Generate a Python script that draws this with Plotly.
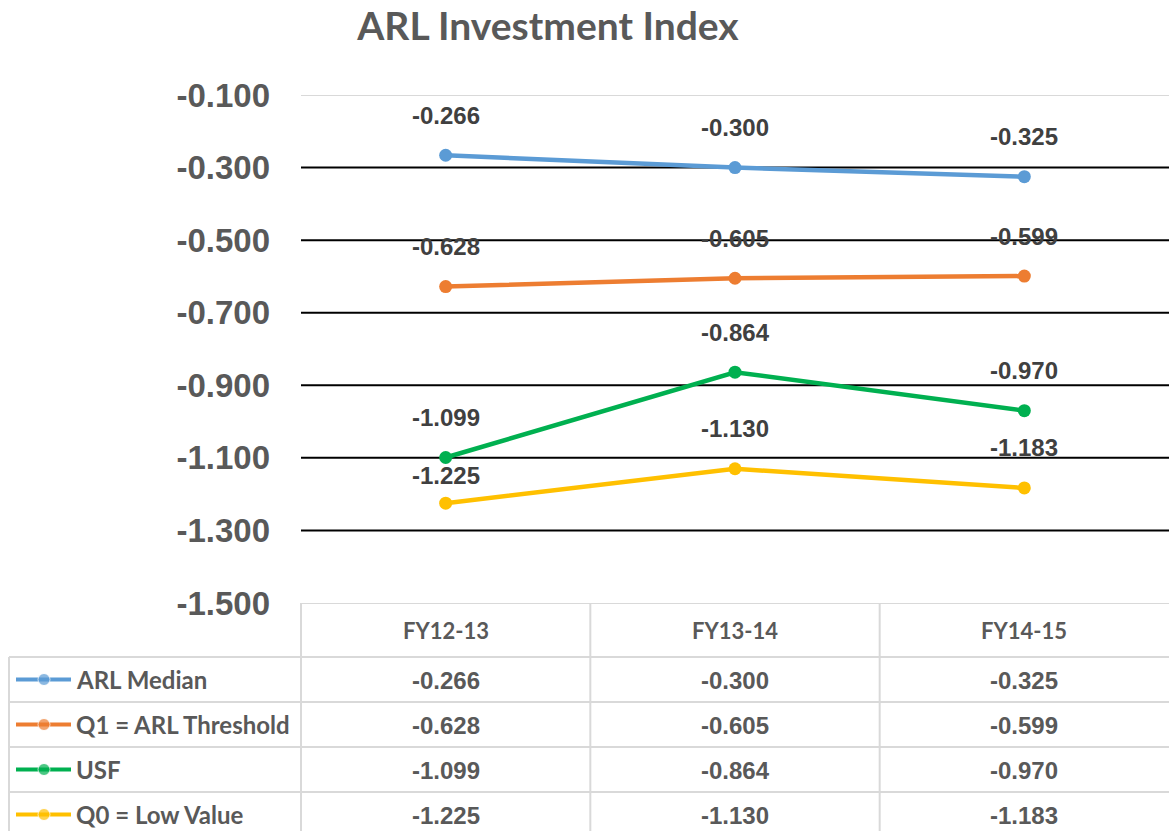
import plotly.graph_objects as go

# ---------------- data ----------------
categories = ["FY12-13", "FY13-14", "FY14-15"]
series_names = ["ARL Median", "Q1 = ARL Threshold", "USF", "Q0 = Low Value"]
arl_median = [-0.266, -0.300, -0.325]
q1_threshold = [-0.628, -0.605, -0.599]
usf = [-1.099, -0.864, -0.970]
q0_low = [-1.225, -1.130, -1.183]
tick_vals = [-0.1, -0.3, -0.5, -0.7, -0.9, -1.1, -1.3, -1.5]
title_text = "ARL Investment Index"

series_values = [arl_median, q1_threshold, usf, q0_low]
colors = ["#5B9BD5", "#ED7D31", "#00B050", "#FFC000"]

# ---------------- layout constants ----------------
W, H = 1169, 831
ML, MT = 8, 95
plot_w = W - ML
plot_h = H - MT
table_left_px = 293          # width of the label column
table_h = 228                # table height in px
header_h = 54
row_h = 45
unit = (plot_w - table_left_px) / len(categories)   # px per category
x0 = -0.5 - table_left_px / unit                    # table axis left edge
grid_light = "#D9D9D9"
text_gray = "#595959"
label_gray = "#404040"
label_shift = 40
label_shift_override = {(3, 0): 28}   # (series, category) -> px

fig = go.Figure()

# main series
xs = list(range(len(categories)))
for name, vals, col in zip(series_names, series_values, colors):
    fig.add_trace(go.Scatter(
        x=xs, y=vals, mode="lines+markers", name=name,
        line=dict(color=col, width=4.5), marker=dict(size=13, color=col),
        xaxis="x", yaxis="y", showlegend=False, cliponaxis=False))

annotations = []
# data labels
for s, vals in enumerate(series_values):
    for i, v in enumerate(vals):
        annotations.append(dict(
            x=i, y=v, xref="x", yref="y", text=f"{v:.3f}", showarrow=False,
            yshift=label_shift_override.get((s, i), label_shift),
            font=dict(family="Liberation Sans", size=24,
                      color=label_gray, weight="bold")))

shapes = []
# horizontal gridlines
for t in tick_vals:
    if t <= -1.5:
        continue
    col = grid_light if t >= -0.1 else "black"
    shapes.append(dict(type="line", xref="x domain", yref="y", x0=0, x1=1,
                       y0=t, y1=t, line=dict(color=col, width=2), layer="below"))

# ---------------- table ----------------
for i, c in enumerate(categories):
    annotations.append(dict(
        x=i, y=header_h / 2, xref="x2", yref="y2", text=c, showarrow=False,
        font=dict(family="Lato", size=22, color=text_gray, weight="bold")))

for r, (name, vals, col) in enumerate(zip(series_names, series_values, colors)):
    yc = header_h + r * row_h + row_h / 2
    fig.add_trace(go.Scatter(
        x=[x0 + 8 / unit, x0 + 36 / unit, x0 + 63 / unit], y=[yc, yc, yc],
        mode="lines+markers", line=dict(color=col, width=4),
        marker=dict(size=[0, 12, 0], color=col),
        xaxis="x2", yaxis="y2", showlegend=False, hoverinfo="skip"))
    annotations.append(dict(
        x=x0 + 66 / unit, y=yc, xref="x2", yref="y2", text=name,
        xanchor="left", showarrow=False,
        font=dict(family="Lato", size=24, color=text_gray, weight="bold")))
    for i, v in enumerate(vals):
        annotations.append(dict(
            x=i, y=yc + 1, xref="x2", yref="y2", text=f"{v:.3f}", showarrow=False,
            font=dict(family="Liberation Sans", size=24, color=text_gray,
                      weight="bold")))

tline = dict(color=grid_light, width=2)
shapes.append(dict(type="line", xref="x2", yref="y2", x0=-0.5, x1=2.5,
                   y0=0, y1=0, line=tline))
for r in range(len(series_names)):
    yy = header_h + r * row_h
    shapes.append(dict(type="line", xref="x2", yref="y2", x0=x0 + 1 / unit,
                       x1=2.5, y0=yy, y1=yy, line=tline))
for b in [-0.5 + k for k in range(len(categories))]:
    shapes.append(dict(type="line", xref="x2", yref="y2", x0=b, x1=b,
                       y0=0, y1=table_h + 10, line=tline))
shapes.append(dict(type="line", xref="x2", yref="y2", x0=x0 + 1 / unit,
                   x1=x0 + 1 / unit, y0=header_h, y1=table_h + 10, line=tline))

main_bottom = table_h / plot_h

fig.update_layout(
    width=W, height=H,
    margin=dict(l=ML, r=0, t=MT, b=0),
    paper_bgcolor="white", plot_bgcolor="white",
    title=dict(text=title_text, x=548 / W, xref="container", xanchor="center",
               y=1 - 26 / H, yref="container", yanchor="middle",
               font=dict(family="Lato", size=39, color=text_gray, weight="bold")),
    xaxis=dict(domain=[table_left_px / plot_w, 1], range=[-0.5, 2.5],
               showticklabels=False, showgrid=False, zeroline=False,
               showline=False, anchor="y"),
    yaxis=dict(domain=[main_bottom, 1], range=[-1.5, -0.1],
               tickvals=tick_vals, ticktext=[f"{t:.3f}" for t in tick_vals],
               showgrid=False, zeroline=False, showline=False,
               ticklabelstandoff=30, automargin=False,
               tickfont=dict(family="Liberation Sans", size=33, color=text_gray,
                             weight="bold"), anchor="x"),
    xaxis2=dict(domain=[0, 1], range=[x0, 2.5], visible=False, anchor="y2"),
    yaxis2=dict(domain=[0, main_bottom], range=[table_h, 0], visible=False,
                anchor="x2"),
    annotations=annotations, shapes=shapes,
    showlegend=False,
)

fig.write_html(
    "out.html",
    config={"displayModeBar": False},
    post_script="document.body.style.margin='0';document.body.style.overflow='hidden';",
)
